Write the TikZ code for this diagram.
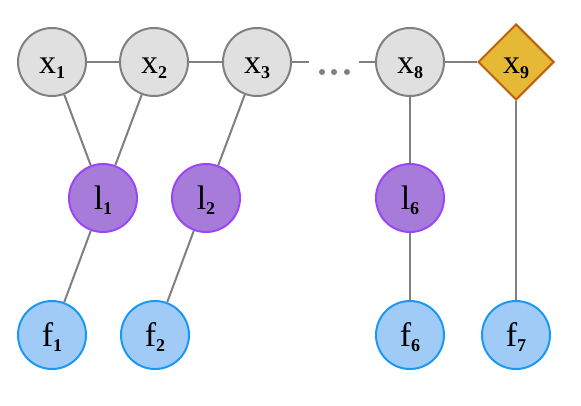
\documentclass[tikz,border=0pt]{standalone}
\usepackage{fontspec}
\setmainfont{Liberation Serif}
\usetikzlibrary{shapes.geometric}

\definecolor{edgegray}{HTML}{808080}
\definecolor{varfill}{HTML}{E0E0E0}
\definecolor{lmkfill}{HTML}{A77BD9}
\definecolor{lmkdraw}{HTML}{9B45F5}
\definecolor{factfill}{HTML}{A0CBF7}
\definecolor{factdraw}{HTML}{1A98F5}
\definecolor{priorfill}{HTML}{E5B935}
\definecolor{priordraw}{HTML}{C0600A}

\newcommand{\varlab}[2]{#1\raisebox{-5pt}{\fontsize{18}{18}\selectfont\bfseries #2}}

\tikzset{
	base/.style={circle, line width=2pt, minimum size=68pt, inner sep=0pt,
		font=\fontsize{34}{34}\selectfont, text height=22pt, text depth=0pt},
	var/.style={base, draw=edgegray, fill=varfill},
	lmk/.style={base, draw=lmkdraw, fill=lmkfill},
	fact/.style={base, draw=factdraw, fill=factfill},
	prior/.style={base, diamond, draw=priordraw, fill=priorfill, minimum size=76pt},
	link/.style={draw=edgegray, line width=2pt}
}

\begin{document}
\begin{tikzpicture}[x=1pt, y=-1pt]
		
		\useasboundingbox (0,0) rectangle (581,405);
		
		\node[var] (x1) at (52,62) {\varlab{x}{1}};
		\node[var] (x2) at (154,62) {\varlab{x}{2}};
		\node[var] (x3) at (257,62) {\varlab{x}{3}};
		\node[minimum width=50pt, inner sep=0pt] (dots) at (334,62) {};
		\node[var] (x8) at (410,62) {\varlab{x}{8}};
		\node[prior] (x9) at (516,62) {\varlab{x}{9}};
		
		\node[lmk] (l1) at (103,198) {\varlab{l}{1}};
		\node[lmk] (l2) at (206,198) {\varlab{l}{2}};
		\node[lmk] (l6) at (410,198) {\varlab{l}{6}};
		
		\node[fact] (f1) at (52,335) {\varlab{f}{1}};
		\node[fact] (f2) at (155,335) {\varlab{f}{2}};
		\node[fact] (f6) at (410,335) {\varlab{f}{6}};
		\node[fact] (f7) at (516,335) {\varlab{f}{7}};
		
		% edges
		\draw[link] (x1) -- (x2);
		\draw[link] (x2) -- (x3);
		\draw[link] (x3) -- (dots.west);
		\draw[link] (dots.east) -- (x8);
		\draw[link] (x8) -- (x9);
		\draw[link] (x1) -- (l1);
		\draw[link] (x2) -- (l1);
		\draw[link] (x3) -- (l2);
		\draw[link] (x8) -- (l6);
		\draw[link] (l1) -- (f1);
		\draw[link] (l2) -- (f2);
		\draw[link] (l6) -- (f6);
		\draw[link] (x9) -- (f7);
		
		\fill[edgegray] (dots.center) ++(-12,10) circle (3) ++(12,0) circle (3) ++(13,0) circle (3);
		
	\end{tikzpicture}
\end{document}
